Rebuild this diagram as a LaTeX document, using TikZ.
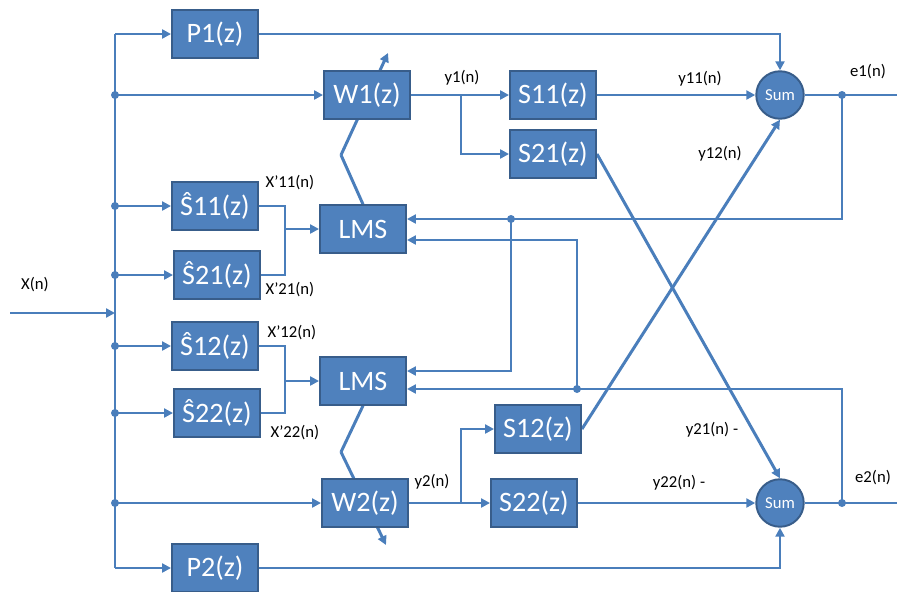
\documentclass[tikz,border=0pt]{standalone}
\usepackage{fontspec}
\setmainfont{Carlito}
\usepackage{tikz}
\usetikzlibrary{arrows.meta,backgrounds}
\definecolor{boxblue}{HTML}{4F81BD}
\definecolor{boxedge}{HTML}{385D8A}
\definecolor{wireblue}{HTML}{4A7EBB}
\tikzset{
  filt/.style={draw=boxedge, line width=1.1pt, fill=boxblue, text=white,
    minimum width=1.72cm, minimum height=0.95cm, inner sep=0pt,
    font=\fontsize{16}{18}\selectfont},
  summer/.style={circle, draw=boxedge, line width=1.1pt, fill=boxblue, text=white,
    minimum size=0.95cm, inner sep=0pt, font=\fontsize{9.5}{11}\selectfont},
  sig/.style={font=\fontsize{9.5}{11}\selectfont, inner sep=1pt},
  wire/.style={draw=wireblue, line width=1.7pt},
  dot/.style={fill=wireblue},
}
\begin{document}
\begin{tikzpicture}[x=0.02cm, y=-0.02cm, >={Triangle[length=1.8mm,width=1.8mm]}]
    \useasboundingbox (0,0) rectangle (897,592);

    \node[filt] (P1) at (215,34) {P1(z)};
    \node[filt] (W1) at (367,95) {W1(z)};
    \node[filt] (S11) at (553,95) {S11(z)};
    \node[filt] (S21) at (553,154) {S21(z)};
    \node[summer] (sum1) at (780,95) {Sum};
    \node[filt] (hS11) at (215,206) {Ŝ11(z)};
    \node[filt] (hS21) at (217,275) {Ŝ21(z)};
    \node[filt] (lms1) at (363,229) {LMS};
    \node[filt] (hS12) at (215,346) {Ŝ12(z)};
    \node[filt] (hS22) at (217,413) {Ŝ22(z)};
    \node[filt] (lms2) at (363,381) {LMS};
    \node[filt] (S12) at (538,429) {S12(z)};
    \node[filt] (W2) at (365,503) {W2(z)};
    \node[filt] (S22) at (534,503) {S22(z)};
    \node[summer] (sum2) at (780,503) {Sum};
    \node[filt] (P2) at (215,568) {P2(z)};

    \node[sig] (lx) at (35,285) {X(n)};
    \node[sig] (ly1) at (462,78) {y1(n)};
    \node[sig] (ly11) at (700,79) {y11(n)};
    \node[sig] (ly12) at (720,154) {y12(n)};
    \node[sig] (le1) at (868,72) {e1(n)};
    \node[sig] (lx11) at (290,183) {X’11(n)};
    \node[sig] (lx21) at (290,290) {X’21(n)};
    \node[sig] (lx12) at (292,333) {X’12(n)};
    \node[sig] (lx22) at (295,433) {X’22(n)};
    \node[sig] (ly21) at (712,430) {y21(n) -};
    \node[sig] (ly2) at (432,482) {y2(n)};
    \node[sig] (ly22) at (679,483) {y22(n) -};
    \node[sig] (le2) at (873,478) {e2(n)};

    \coordinate (bt) at (115,34);
    \coordinate (bb) at (115,568);
    \coordinate (xin) at (10,313);
    \coordinate (xj) at (115,313);
    \coordinate (j1) at (461,95);
    \coordinate (j2) at (461,503);
    \coordinate (m1) at (285,229);
    \coordinate (m2) at (285,381);
    \coordinate (d1) at (842,95);
    \coordinate (d2) at (842,503);
    \coordinate (f1) at (511,219);
    \coordinate (f2) at (577,389);
    \coordinate (e1out) at (897,95);
    \coordinate (e2out) at (897,503);
    \coordinate (k1) at (341,155);
    \coordinate (a1) at (388,53);
    \coordinate (k2) at (341,452);
    \coordinate (a2) at (386,545);

    \begin{scope}[on background layer]
    \draw[wire] (bt) -- (bb);
    \draw[wire,->] (bt) -- (P1);
    \draw[wire,->] (bb) -- (P2);
    \draw[wire,->] (xin) -- (xj);
    \foreach \n in {W1,hS11,hS21,hS12,hS22,W2} {
        \draw[wire,->] (\n.west -| bt) -- (\n.west);
        \fill[dot] (\n.west -| bt) circle (0.08cm);
    }

    \draw[wire] (hS11) -| (m1);
    \draw[wire] (hS21) -| (m1);
    \draw[wire,->] (m1) -- (lms1);
    \draw[wire] (hS12) -| (m2);
    \draw[wire] (hS22) -| (m2);
    \draw[wire,->] (m2) -- (lms2);

    \draw[wire] (lms1.north) -- (k1);
    \draw[wire,->] (k1) -- (a1);
    \draw[wire] (lms2.south) -- (k2);
    \draw[wire,->] (k2) -- (a2);

    \draw[wire,->] (W1) -- (S11);
    \draw[wire,->] (j1) |- (S21);
    \draw[wire,->] (S11) -- (sum1);
    \draw[wire,->] (P1) -| (sum1);
    \draw[wire] (sum1) -- (e1out);
    \draw[wire,->] (W2) -- (S22);
    \draw[wire,->] (j2) |- (S12);
    \draw[wire,->] (S22) -- (sum2);
    \draw[wire,->] (P2) -| (sum2);
    \draw[wire] (sum2) -- (e2out);

    \draw[wire,->] (S12.east) -- (sum1.south);
    \draw[wire,->] (S21.east) -- (sum2.north);

    \draw[wire,->] (d1) |- ([yshift=2mm]lms1.east);
    \draw[wire,->] (f1) |- ([yshift=2mm]lms2.east);
    \draw[wire,->] (d2) |- ([yshift=-1.6mm]lms2.east);
    \draw[wire,->] (f2) |- ([yshift=-2.2mm]lms1.east);
    \foreach \c in {d1,d2,f1,f2}
        \fill[dot] (\c) circle (0.08cm);
    \end{scope}
\end{tikzpicture}
\end{document}
